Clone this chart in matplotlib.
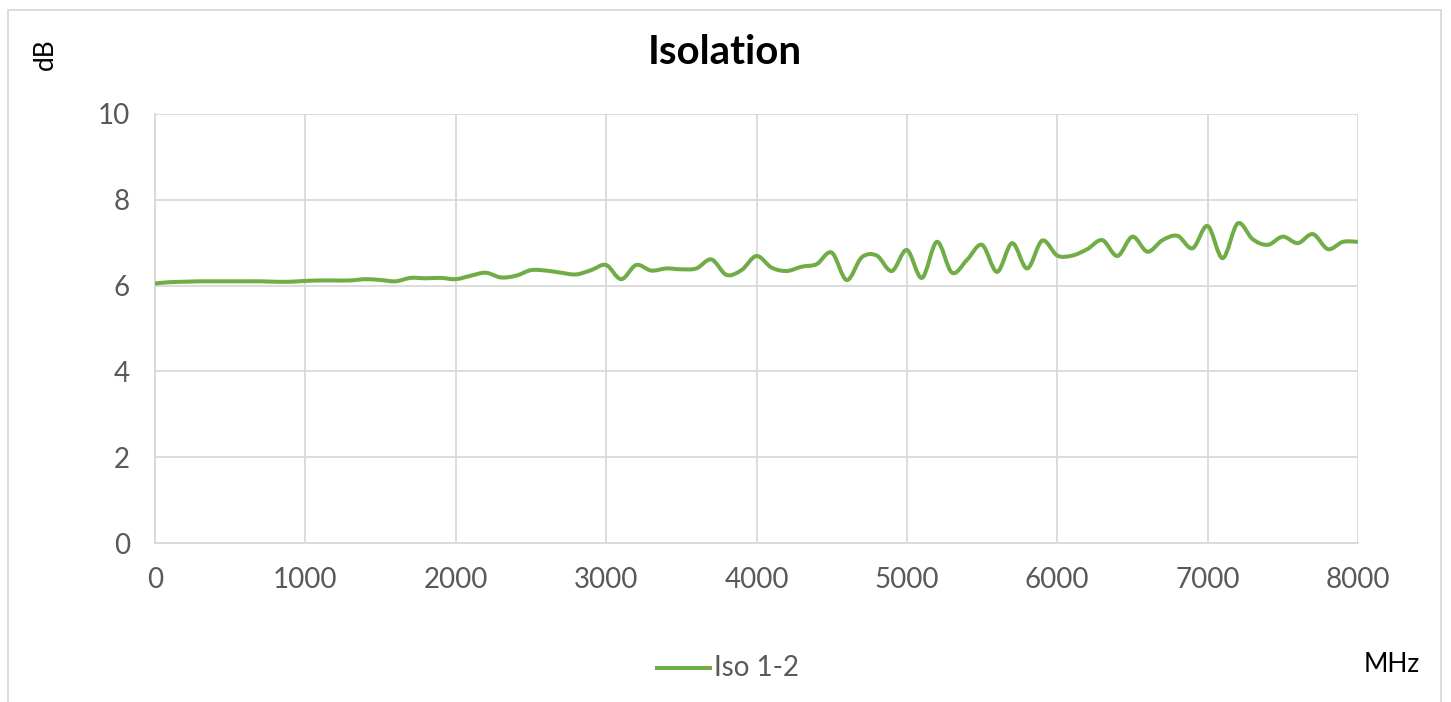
import matplotlib
matplotlib.use("Agg")
import matplotlib.pyplot as plt
from matplotlib.path import Path
from matplotlib.patches import PathPatch, Rectangle
from matplotlib.lines import Line2D
import numpy as np

freq_mhz = list(range(0, 8001, 100))
iso_12 = [6.05, 6.08, 6.09, 6.10, 6.10, 6.10, 6.10, 6.10, 6.09, 6.09,
          6.11, 6.12, 6.12, 6.12, 6.15, 6.13, 6.10, 6.18, 6.17, 6.18,
          6.15, 6.23, 6.30, 6.19, 6.23, 6.36, 6.35, 6.30, 6.26, 6.36,
          6.48, 6.15, 6.48, 6.35, 6.40, 6.38, 6.40, 6.61, 6.25, 6.36,
          6.69, 6.42, 6.34, 6.44, 6.50, 6.77, 6.13, 6.66, 6.70, 6.34,
          6.83, 6.18, 7.02, 6.30, 6.60, 6.95, 6.32, 6.99, 6.40, 7.05,
          6.70, 6.70, 6.85, 7.06, 6.69, 7.14, 6.79, 7.06, 7.16, 6.87,
          7.39, 6.64, 7.45, 7.08, 6.95, 7.14, 6.99, 7.20, 6.85, 7.02,
          7.02]
x_ticks = [0, 1000, 2000, 3000, 4000, 5000, 6000, 7000, 8000]
y_ticks = [0, 2, 4, 6, 8, 10]
title = "Isolation"
series_name = "Iso 1-2"
line_color = "#70AD47"

W, H = 1451, 702
fig = plt.figure(figsize=(W / 100, H / 100), dpi=100)
ax = fig.add_axes([155 / W, 1 - 543 / H, (1358 - 155) / W, (543 - 114) / H])

# smoothed line (Excel-like) via cubic Bezier segments
x = np.array(freq_mhz, dtype=float)
y = np.array(iso_12, dtype=float)
verts = [(x[0], y[0])]
codes = [Path.MOVETO]
n = len(x)
for i in range(n - 1):
    p0 = (x[max(i - 1, 0)], y[max(i - 1, 0)])
    p1 = (x[i], y[i])
    p2 = (x[i + 1], y[i + 1])
    p3 = (x[min(i + 2, n - 1)], y[min(i + 2, n - 1)])
    c1 = (p1[0] + (p2[0] - p0[0]) / 6, p1[1] + (p2[1] - p0[1]) / 6)
    c2 = (p2[0] - (p3[0] - p1[0]) / 6, p2[1] - (p3[1] - p1[1]) / 6)
    verts += [c1, c2, p2]
    codes += [Path.CURVE4] * 3
ax.add_patch(PathPatch(Path(verts, codes), fill=False, edgecolor=line_color,
                       lw=2.9, capstyle="round", joinstyle="round", zorder=3))

ax.set_xlim(0, 8000)
ax.set_ylim(0, 10)
ax.set_xticks(x_ticks)
ax.set_yticks(y_ticks)
ax.grid(True, color="#d9d9d9", lw=1.3)
ax.set_axisbelow(True)
for s in ["top", "right"]:
    ax.spines[s].set_visible(False)
for s in ["left", "bottom"]:
    ax.spines[s].set_color("#d9d9d9")
    ax.spines[s].set_linewidth(1.3)
ax.tick_params(axis="x", length=0, labelsize=20, labelcolor="#595959", pad=17)
ax.tick_params(axis="y", length=0, labelsize=20, labelcolor="#595959", pad=18)
for lab in ax.get_xticklabels() + ax.get_yticklabels():
    lab.set_fontfamily("Lato")

fig.text(725 / W, 1 - 52 / H, title, ha="center", va="center",
         fontsize=29, fontweight="bold", family="Lato", color="black")
fig.text(45 / W, 1 - 54 / H, "dB", rotation=90, ha="center", va="center",
         fontsize=19, family="Lato", color="black")
fig.text(1392 / W, 1 - 665 / H, "MHz", ha="center", va="center",
         fontsize=19, family="Lato", color="black")

# legend
fig.add_artist(Line2D([657 / W, 710 / W], [1 - 668 / H, 1 - 668 / H],
                      color=line_color, lw=2.9, transform=fig.transFigure))
fig.text(714 / W, 1 - 668 / H, series_name, ha="left", va="center",
         fontsize=20, family="Lato", color="#595959")

# chart border
fig.add_artist(Rectangle((8 / W, -0.01), (1441 - 8) / W, 1 - 10 / H + 0.01,
                         transform=fig.transFigure, fill=False,
                         edgecolor="#d9d9d9", lw=1.3))

fig.savefig("out.png", dpi=100)
